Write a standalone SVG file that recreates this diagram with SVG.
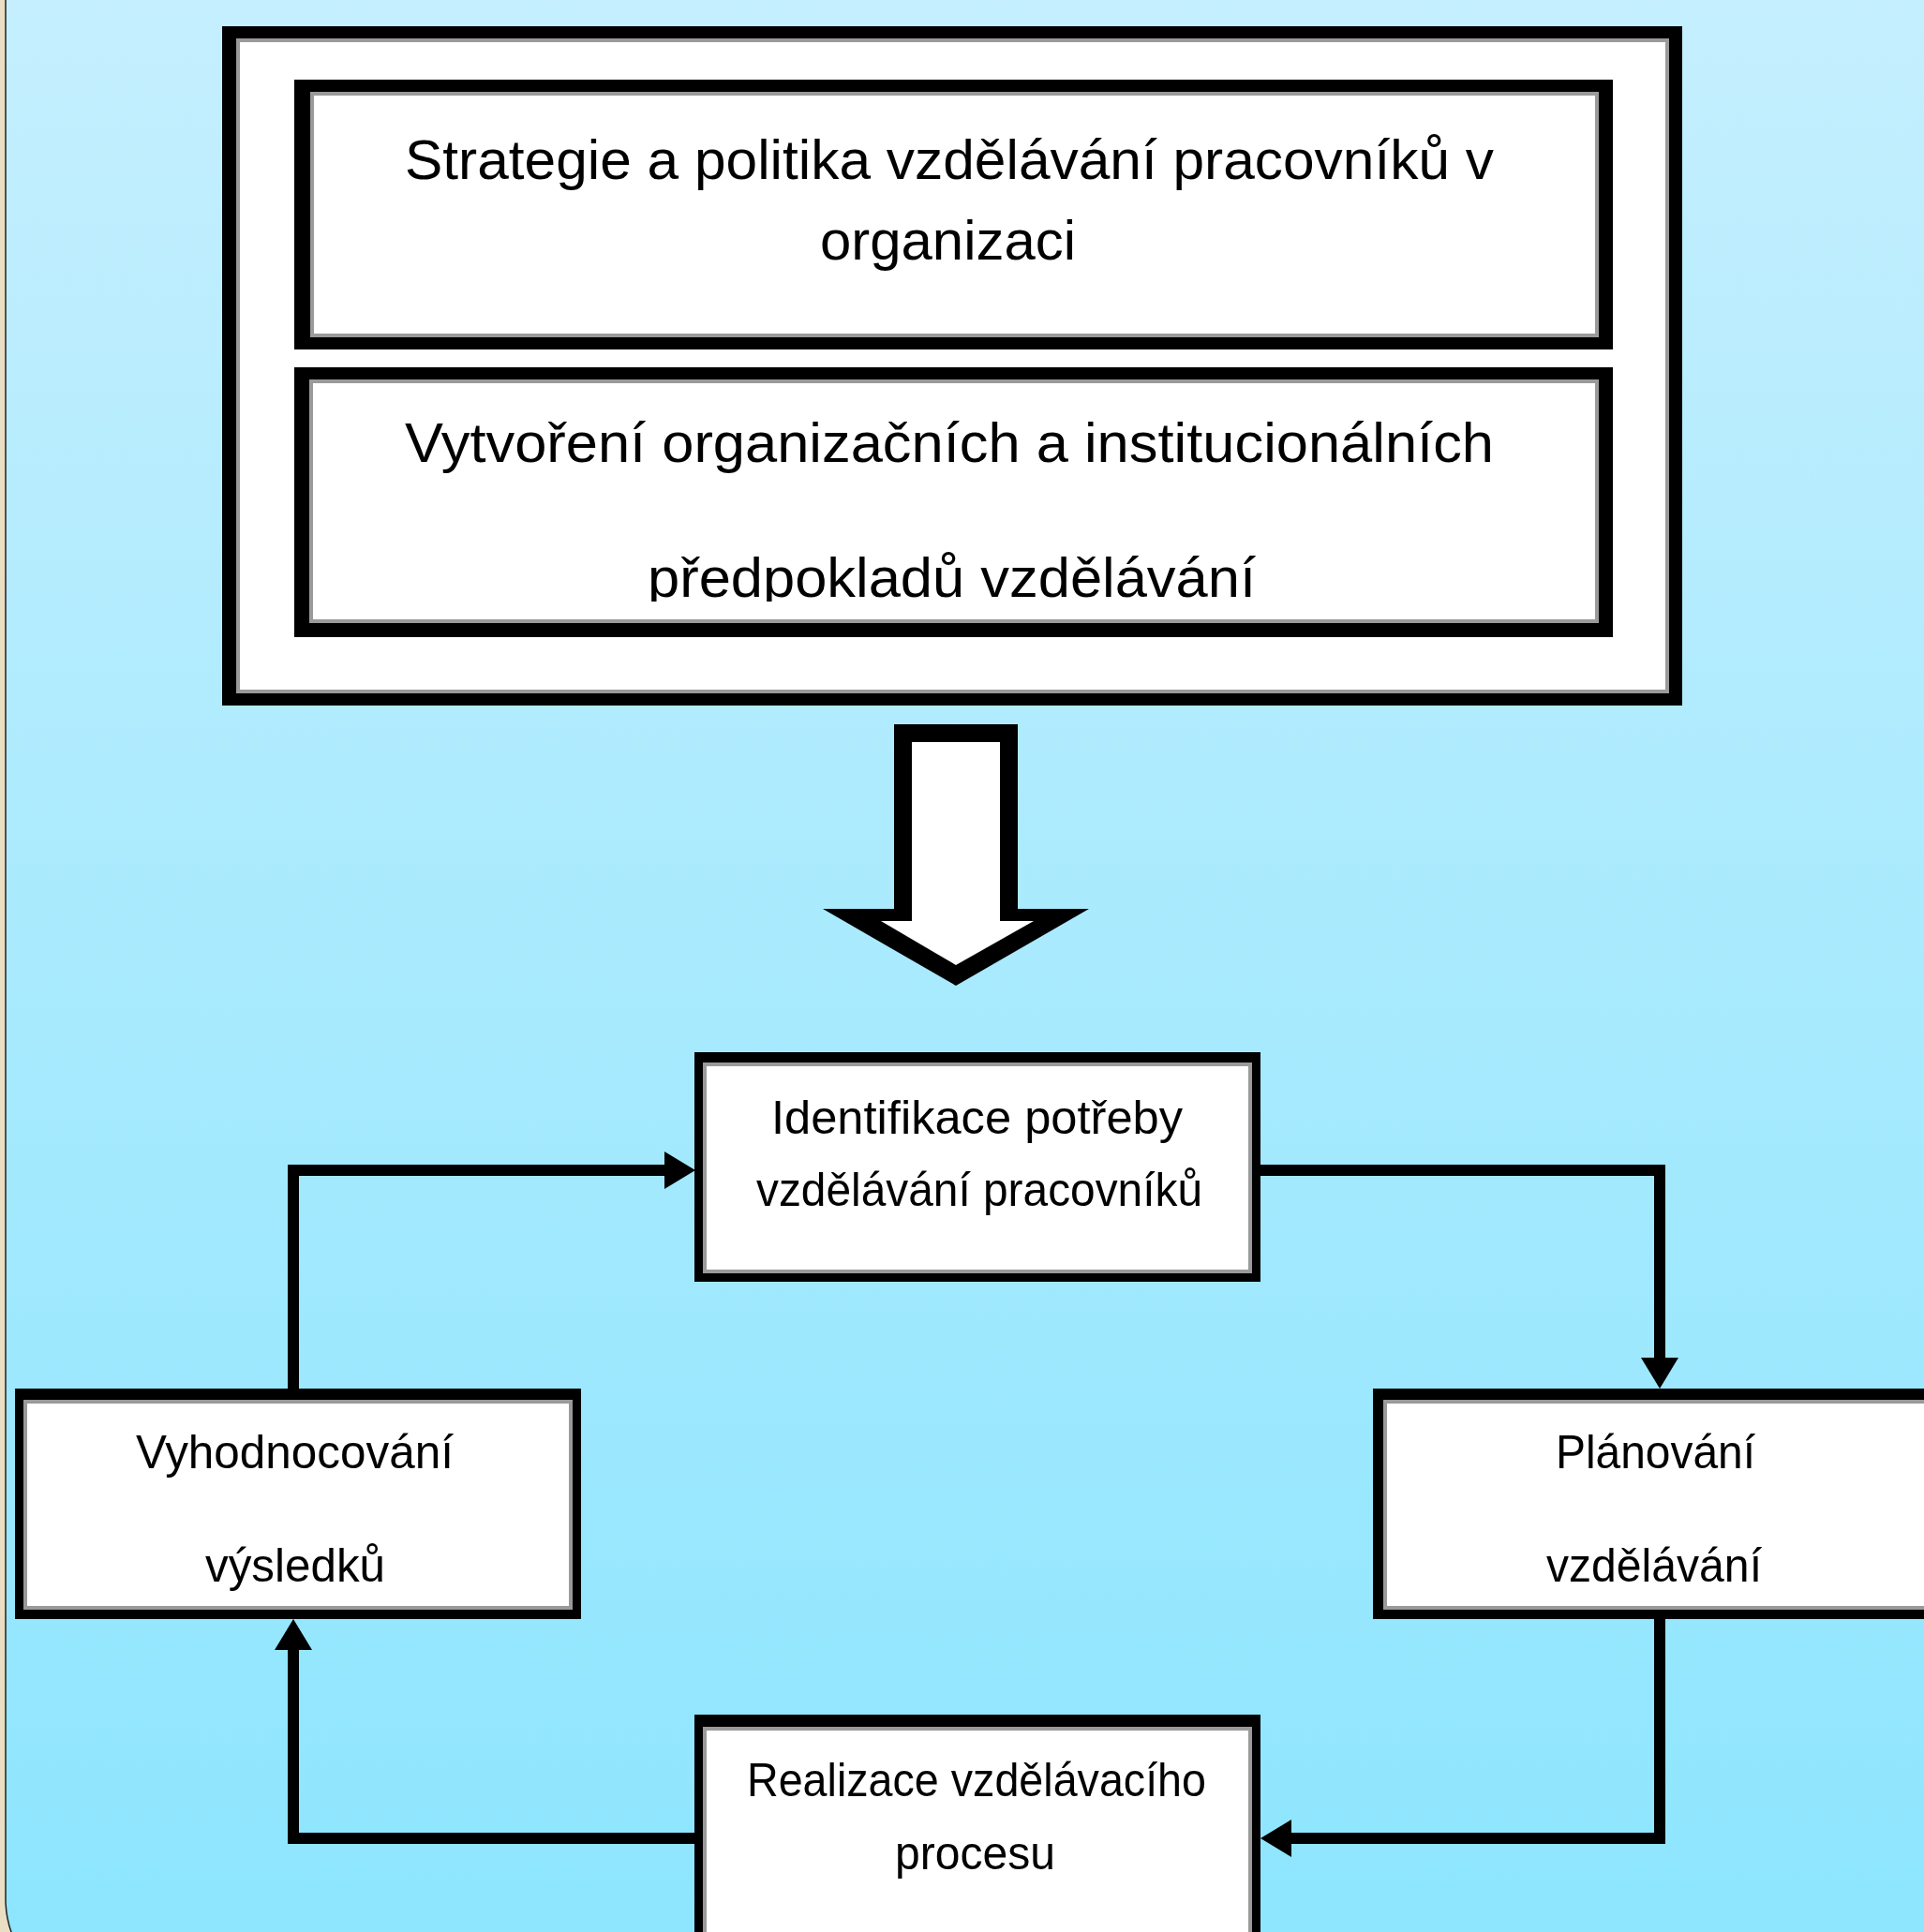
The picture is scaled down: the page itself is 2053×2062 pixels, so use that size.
<svg xmlns="http://www.w3.org/2000/svg" width="2053" height="2062" viewBox="0 0 2053 2062">
<defs>
<linearGradient id="bg" x1="0" y1="0" x2="0" y2="1">
<stop offset="0" stop-color="#CAF0FE"/>
<stop offset="1" stop-color="#8BE5FE"/>
</linearGradient>
<marker id="ah" markerUnits="userSpaceOnUse" viewBox="0 0 33 40" refX="0" refY="20" markerWidth="33" markerHeight="40" orient="auto">
<path d="M0,0 L33,20 L0,40 Z" fill="#000"/>
</marker>
<clipPath id="clipB2"><rect x="330" y="400" width="1380" height="242"/></clipPath>
</defs>
<style>
.frame{fill:#000}
.inner{fill:#fff;stroke:#9a9a9a;stroke-width:4}
.t{font-family:"Liberation Sans",Arial,sans-serif;fill:#000;text-anchor:start}
.big{font-size:60px}
.mid{font-size:50px}
.conn{fill:none;stroke:#000;stroke-width:12;stroke-linejoin:miter;stroke-linecap:butt}
</style>
<rect x="0" y="0" width="2053" height="2062" fill="#EADFC2"/>
<rect x="6" y="-200" width="2200" height="2332" rx="105" ry="105" fill="url(#bg)" stroke="#222" stroke-width="1.5"/>

<g id="outer-box">
<rect class="frame" x="237" y="28" width="1558" height="725"/>
<rect class="inner" x="254" y="43" width="1525" height="695"/>
</g>

<g id="box-strategie">
<rect class="frame" x="314" y="85" width="1407" height="288"/>
<rect class="inner" x="333" y="100" width="1371" height="258"/>
<text class="t big" x="432" y="191" textLength="1162" lengthAdjust="spacingAndGlyphs">Strategie a politika vzdělávání pracovníků v</text>
<text class="t big" x="875" y="277" textLength="273" lengthAdjust="spacingAndGlyphs">organizaci</text>
</g>

<g id="box-vytvoreni">
<rect class="frame" x="314" y="392" width="1407" height="288"/>
<rect class="inner" x="332" y="407" width="1372" height="256"/>
<text class="t big" x="432" y="493" textLength="1162" lengthAdjust="spacingAndGlyphs">Vytvoření organizačních a institucionálních</text>
<text class="t big" x="691" y="637" textLength="649" lengthAdjust="spacingAndGlyphs" clip-path="url(#clipB2)">předpokladů vzdělávání</text>
</g>

<g id="big-arrow">
<polygon points="954,773 1086,773 1086,970 1162,970 1020,1052 878,970 954,970" fill="#000"/>
<polygon points="973,792 1067,792 1067,983 1103,983 1020,1030 940,983 973,983" fill="#fff"/>
</g>

<g id="connectors">
<path class="conn" d="M313,1482 V1249 H709" marker-end="url(#ah)"/>
<path class="conn" d="M1345,1249 H1771 V1449" marker-end="url(#ah)"/>
<path class="conn" d="M1771,1728 V1962 H1378" marker-end="url(#ah)"/>
<path class="conn" d="M741,1962 H313 V1761" marker-end="url(#ah)"/>
</g>

<g id="node-identifikace">
<rect class="frame" x="741" y="1123" width="604" height="245"/>
<rect class="inner" x="752" y="1136" width="582" height="221"/>
<text class="t mid" x="823" y="1210" textLength="439" lengthAdjust="spacingAndGlyphs">Identifikace potřeby</text>
<text class="t mid" x="807" y="1287" textLength="476" lengthAdjust="spacingAndGlyphs">vzdělávání pracovníků</text>
</g>

<g id="node-vyhodnocovani">
<rect class="frame" x="16" y="1482" width="604" height="246"/>
<rect class="inner" x="27" y="1496" width="582" height="220"/>
<text class="t mid" x="145" y="1567" textLength="339" lengthAdjust="spacingAndGlyphs">Vyhodnocování</text>
<text class="t mid" x="219" y="1688" textLength="192" lengthAdjust="spacingAndGlyphs">výsledků</text>
</g>

<g id="node-planovani">
<rect class="frame" x="1465" y="1482" width="640" height="246"/>
<rect class="inner" x="1478" y="1496" width="620" height="220"/>
<text class="t mid" x="1660" y="1567" textLength="213" lengthAdjust="spacingAndGlyphs">Plánování</text>
<text class="t mid" x="1650" y="1688" textLength="230" lengthAdjust="spacingAndGlyphs">vzdělávání</text>
</g>

<g id="node-realizace">
<rect class="frame" x="741" y="1830" width="604" height="300"/>
<rect class="inner" x="752" y="1845" width="582" height="280"/>
<text class="t mid" x="797" y="1917" textLength="490" lengthAdjust="spacingAndGlyphs">Realizace vzdělávacího</text>
<text class="t mid" x="955" y="1995" textLength="171" lengthAdjust="spacingAndGlyphs">procesu</text>
</g>
</svg>
